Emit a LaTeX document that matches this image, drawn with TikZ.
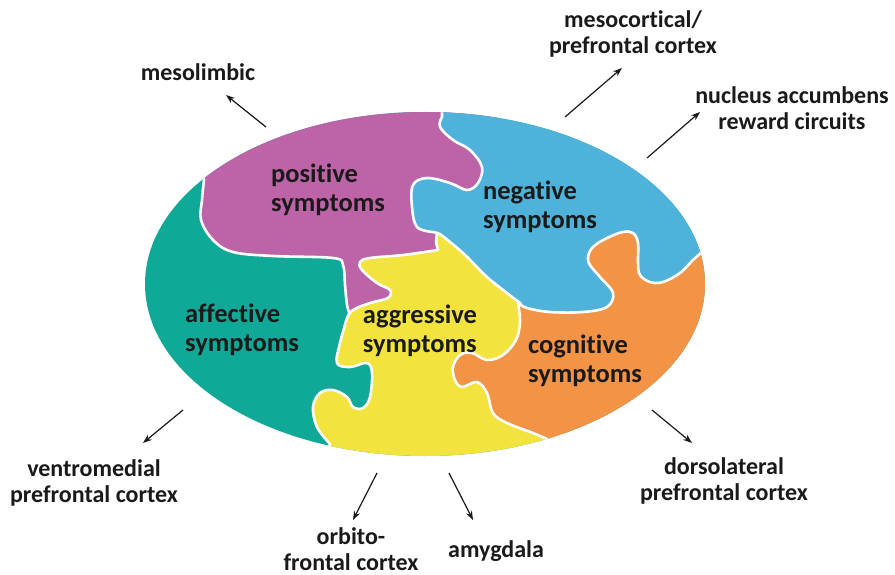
\documentclass[tikz,border=0pt]{standalone}
\usepackage{fontspec}
\setmainfont{Carlito}[Ligatures={NoCommon}]
\usetikzlibrary{arrows.meta}
\definecolor{cteal}{RGB}{16,169,151}
\definecolor{cpurple}{RGB}{189,100,168}
\definecolor{cblue}{RGB}{78,178,219}
\definecolor{cyellow}{RGB}{243,227,62}
\definecolor{corange}{RGB}{243,147,70}
\definecolor{ctext}{RGB}{26,26,26}
\begin{document}
\begin{tikzpicture}[x=1pt,y=-1pt,
  piece/.style={draw=white,line width=2.6pt,line join=round},
  arr/.style={-{Stealth[length=9pt,width=6.5pt]},line width=1.2pt,ctext},
  lab/.style={font=\fontsize{24}{26}\selectfont\bfseries,text=ctext,align=center,inner sep=0pt},
  inl/.style={font=\fontsize{26.5}{28.5}\selectfont\bfseries,text=ctext,align=left,inner sep=0pt}]
\useasboundingbox (0,0) rectangle (895,575);
\begin{scope}
\clip (425,284) ellipse [x radius=280pt, y radius=172pt];
\fill[cteal] (100,80) rectangle (760,500);
% positive (purple)
\path[piece,fill=cpurple] (190,80) -- (198,175) -- plot[smooth,tension=.6] coordinates {(204,179) (202,200) (201,220) (213,240) (233,252) (273,256) (333,258) (343,265) (345,285) (347,305) (350,315)} -- (420,300) -- (500,200) -- (500,80) -- cycle;
% negative (blue)
\path[piece,fill=cblue] (437,233) -- plot[smooth,tension=.6] coordinates {(433,232) (417,227) (412,207) (413,185) (427,178) (450,183) (467,190) (478,183) (482,167) (470,150) (453,140) (440,127) (442,117)} -- (442,90) -- (760,90) -- (760,250) -- (702,252) -- (640,330) -- (500,320) -- cycle;
% aggressive (yellow)
\path[piece,fill=cyellow] (437,233) -- plot[smooth,tension=.6] coordinates {(440,234) (463,253) (487,277) (507,293) (520,303)} -- (545,340) -- (570,490) -- (310,490) -- plot[smooth,tension=.6] coordinates {(330,444) (317,427) (313,407) (320,393) (333,390) (347,397) (353,407) (363,408) (370,397) (372,373) (367,363) (350,367) (337,363) (340,343) (347,318)} -- plot[smooth,tension=.6] coordinates {(347,318) (353,310) (370,303) (388,298) (390,290) (377,283) (362,270) (360,262) (370,258) (403,255) (438,250)} -- (436,242) -- cycle;
% cognitive (orange)
\path[piece,fill=corange] (760,250) -- plot[smooth,tension=.6] coordinates {(702,252) (693,260) (680,273) (663,282) (650,282) (640,275) (638,263) (638,243) (633,233) (623,232) (607,238) (593,247) (588,257) (590,265) (600,277) (613,293) (607,307) (583,312) (550,312) (527,308) (518,303)} -- plot[smooth,tension=.6] coordinates {(518,303) (520,322) (516,340) (503,355) (487,360) (472,353) (460,355) (453,367) (455,380) (462,387) (477,382) (487,393) (493,413) (507,423) (533,433) (547,439)} -- (555,490) -- (760,490) -- cycle;
\end{scope}
% inner labels
\node[inl] (pos) at (328,190) {positive\\symptoms};
\node[inl] (neg) at (540,207) {negative\\symptoms};
\node[inl] (aff) at (242,330) {affective\\symptoms};
\node[inl] (agg) at (420,331) {aggressive\\symptoms};
\node[inl] (cog) at (585,361) {cognitive\\symptoms};
% outer labels
\node[lab] (meso) at (198,72) {mesolimbic};
\node[lab] (mesoc) at (633,34) {mesocortical/\\prefrontal cortex};
\node[lab] (nacc) at (792,108) {nucleus accumbens\\reward circuits};
\node[lab] (vm) at (94,483) {ventromedial\\prefrontal cortex};
\node[lab] (ofc) at (351,549) {orbito-\\frontal cortex};
\node[lab] (amy) at (496,551) {amygdala};
\node[lab] (dl) at (724,481) {dorsolateral\\prefrontal cortex};
% arrow endpoints
\coordinate (s1) at (266,127); \coordinate (t1) at (226,95);
\coordinate (s2) at (565,117); \coordinate (t2) at (622,68);
\coordinate (s3) at (647,158); \coordinate (t3) at (700,112);
\coordinate (s4) at (183,410); \coordinate (t4) at (143,443);
\coordinate (s5) at (377,473); \coordinate (t5) at (353,520);
\coordinate (s6) at (449,473); \coordinate (t6) at (473,520);
\coordinate (s7) at (652,410); \coordinate (t7) at (692,443);
\foreach \i in {1,...,7} {\draw[arr] (s\i) -- (t\i);}
\end{tikzpicture}
\end{document}
